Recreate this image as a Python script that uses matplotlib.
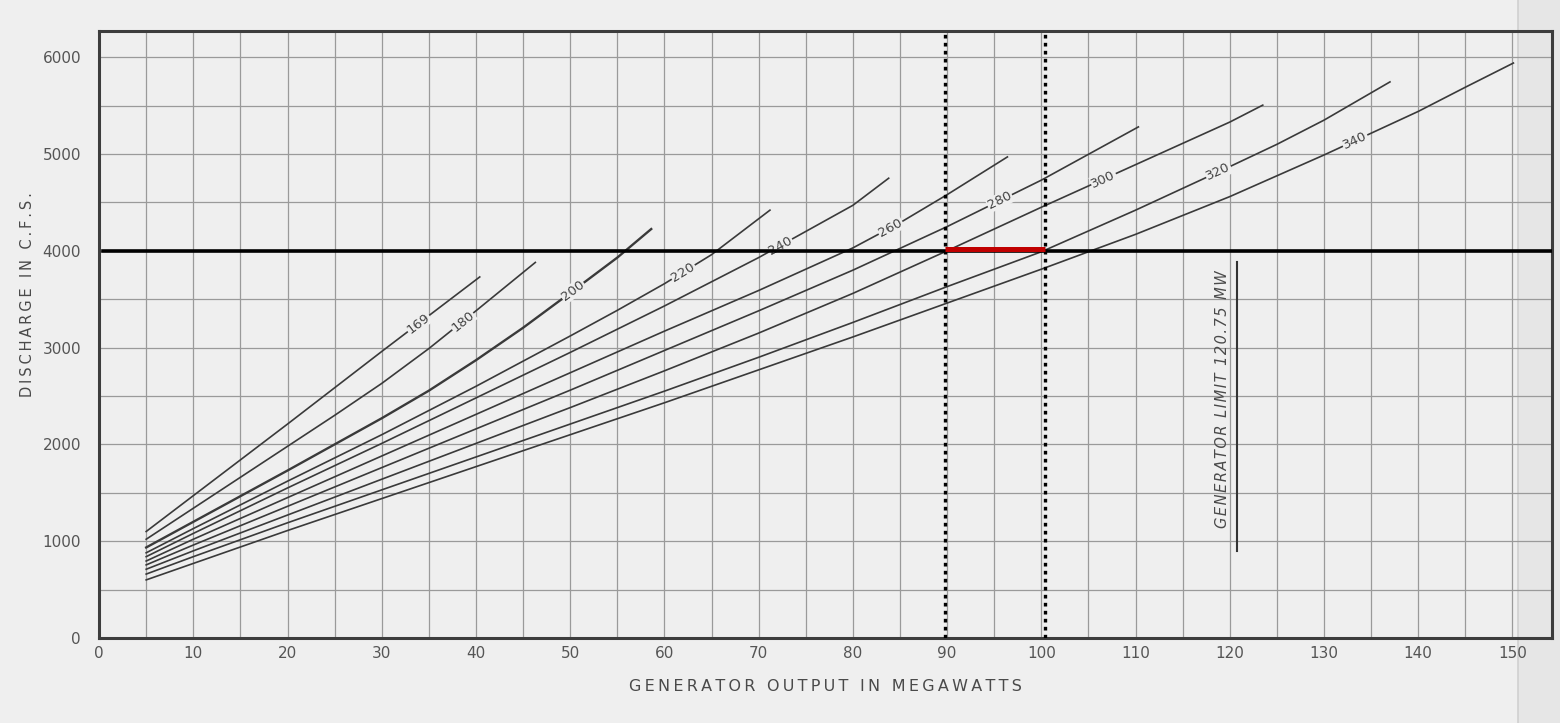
import numpy as np
import matplotlib
matplotlib.use('Agg')
import matplotlib.pyplot as plt
from matplotlib.patches import Rectangle

# discharge vs. output, one curve per net head (ft)
heads = [169, 180, 200, 220, 240, 260, 280, 300, 320, 340]

p169 = [5, 10, 20, 30, 40.4]
q169 = [1100, 1470, 2210, 2960, 3730]
p180 = [5, 10, 20, 25, 30, 35, 40, 46.3]
q180 = [1020, 1340, 1980, 2300, 2630, 2990, 3380, 3880]
p200 = [5, 10, 20, 25, 30, 35, 40, 45, 50, 55, 58.6]
q200 = [935, 1200, 1730, 2000, 2270, 2555, 2870, 3205, 3565, 3930, 4225]
p220 = [5, 10, 20, 30, 40, 50, 55, 60, 65, 71.2]
q220 = [880, 1130, 1620, 2100, 2600, 3120, 3385, 3660, 3960, 4420]
p240 = [5, 10, 20, 30, 40, 50, 60, 70, 75, 80, 83.8]
q240 = [840, 1080, 1550, 2010, 2480, 2950, 3430, 3930, 4200, 4470, 4750]
p260 = [5, 10, 20, 30, 40, 50, 60, 70, 80, 85, 90, 96.4]
q260 = [795, 1020, 1450, 1880, 2310, 2740, 3170, 3590, 4030, 4290, 4580, 4970]
p280 = [5, 10, 20, 30, 40, 50, 60, 70, 80, 90, 100, 110.3]
q280 = [755, 960, 1360, 1760, 2160, 2560, 2970, 3380, 3800, 4250, 4730, 5280]
p300 = [5, 10, 20, 30, 40, 50, 60, 70, 80, 90, 100, 110, 120, 123.5]
q300 = [710, 900, 1270, 1640, 2010, 2380, 2760, 3150, 3560, 4000, 4450, 4890, 5330, 5505]
p320 = [5, 10, 20, 30, 40, 50, 60, 70, 80, 90, 100, 110, 120, 125, 130, 137]
q320 = [660, 840, 1190, 1530, 1870, 2210, 2550, 2900, 3260, 3630, 3990, 4420, 4870, 5100, 5350, 5745]
p340 = [5, 10, 20, 30, 40, 50, 60, 70, 80, 90, 100, 110, 120, 130, 140, 145, 150.1]
q340 = [600, 770, 1110, 1440, 1770, 2100, 2430, 2770, 3110, 3460, 3810, 4170, 4560, 4990, 5440, 5690, 5940]

curves = [(p169, q169), (p180, q180), (p200, q200), (p220, q220), (p240, q240),
          (p260, q260), (p280, q280), (p300, q300), (p320, q320), (p340, q340)]
label_mw = [33.9, 38.6, 50.3, 62.0, 72.3, 84.0, 95.6, 106.6, 118.8, 133.3]

flow_line = 4000
band_mw = [89.8, 100.4]
gen_limit = 120.75
gen_limit_span = [900, 3880]

PAPER = '#efefef'
INK = '#3a3a3a'


def spaced(s, sep='\u2009'):
    return sep.join(s)


fig = plt.figure(figsize=(15.6, 7.23), dpi=100, facecolor=PAPER)
# scanned page edge on the right
fig.patches.append(Rectangle((0.973, 0), 0.027, 1, transform=fig.transFigure,
                             facecolor='#e6e6e6', edgecolor='none', zorder=-2))
fig.lines.append(plt.Line2D([0.973, 0.973], [0, 1], transform=fig.transFigure,
                            color='#d0d0d0', lw=1.2, zorder=-1))

ax = fig.add_axes([0.0635, 0.1176, 0.9314, 0.8394])
ax.set_facecolor('none')
ax.set_xlim(0, 154.2)
ax.set_ylim(0, 6270)

ax.set_xticks(np.arange(0, 151, 10))
ax.set_yticks(np.arange(0, 6001, 1000))
ax.set_xticks(np.arange(0, 155, 5), minor=True)
ax.set_yticks(np.arange(0, 6270, 500), minor=True)
ax.grid(which='both', color='#9a9a9a', lw=0.9)
ax.tick_params(which='both', length=0)
ax.tick_params(axis='x', pad=6, labelsize=11, labelcolor='#555555')
ax.tick_params(axis='y', pad=13, labelsize=11, labelcolor='#555555')
for s in ax.spines.values():
    s.set_color('#3d3d3d')
    s.set_linewidth(2.2)

for h, (p, q) in zip(heads, curves):
    lw = 1.7 if h == 200 else 1.2
    ax.plot(p, q, color=INK, lw=lw, zorder=3)

# head labels sit on the curves, rotated to follow them
fig.canvas.draw()
for h, (p, q), x in zip(heads, curves, label_mw):
    y = np.interp(x, p, q)
    a = ax.transData.transform((x - 1.5, np.interp(x - 1.5, p, q)))
    b = ax.transData.transform((x + 1.5, np.interp(x + 1.5, p, q)))
    ang = np.degrees(np.arctan2(b[1] - a[1], b[0] - a[0]))
    ax.text(x, y, str(h), rotation=ang, rotation_mode='anchor', ha='center', va='center',
            fontsize=9.5, color='#444444', zorder=4,
            bbox=dict(facecolor=PAPER, edgecolor='none', pad=0.6))

# 4000 cfs line and the output band between the dotted limits
ax.axhline(flow_line, xmin=0.003, color='black', lw=2.6, zorder=5)
ax.plot(band_mw, [flow_line + 20, flow_line + 20], color='#c00000', lw=3.6,
        solid_capstyle='butt', zorder=6)
for x in band_mw:
    ax.axvline(x, color='black', lw=2.4, linestyle=(0, (1.1, 1.3)), zorder=5)

# generator limit
ax.plot([gen_limit, gen_limit], gen_limit_span, color='#333333', lw=1.5, zorder=3)
ax.text(gen_limit - 1.5, sum(gen_limit_span) / 2 + 80,
        spaced('GENERATOR LIMIT 120.75 MW', '\u200a'),
        rotation=90, ha='center', va='center', fontsize=10.5, style='italic',
        color='#4a4a4a', zorder=4)

fig.text(0.529, 0.05, spaced('GENERATOR OUTPUT IN MEGAWATTS'), ha='center', va='center',
         fontsize=11.5, color='#4a4a4a')
fig.text(0.0175, 0.592, spaced('DISCHARGE IN C.F.S.'), rotation=90, ha='center',
         va='center', fontsize=10.5, color='#4a4a4a')

fig.savefig('out.png', dpi=100, facecolor=PAPER)
